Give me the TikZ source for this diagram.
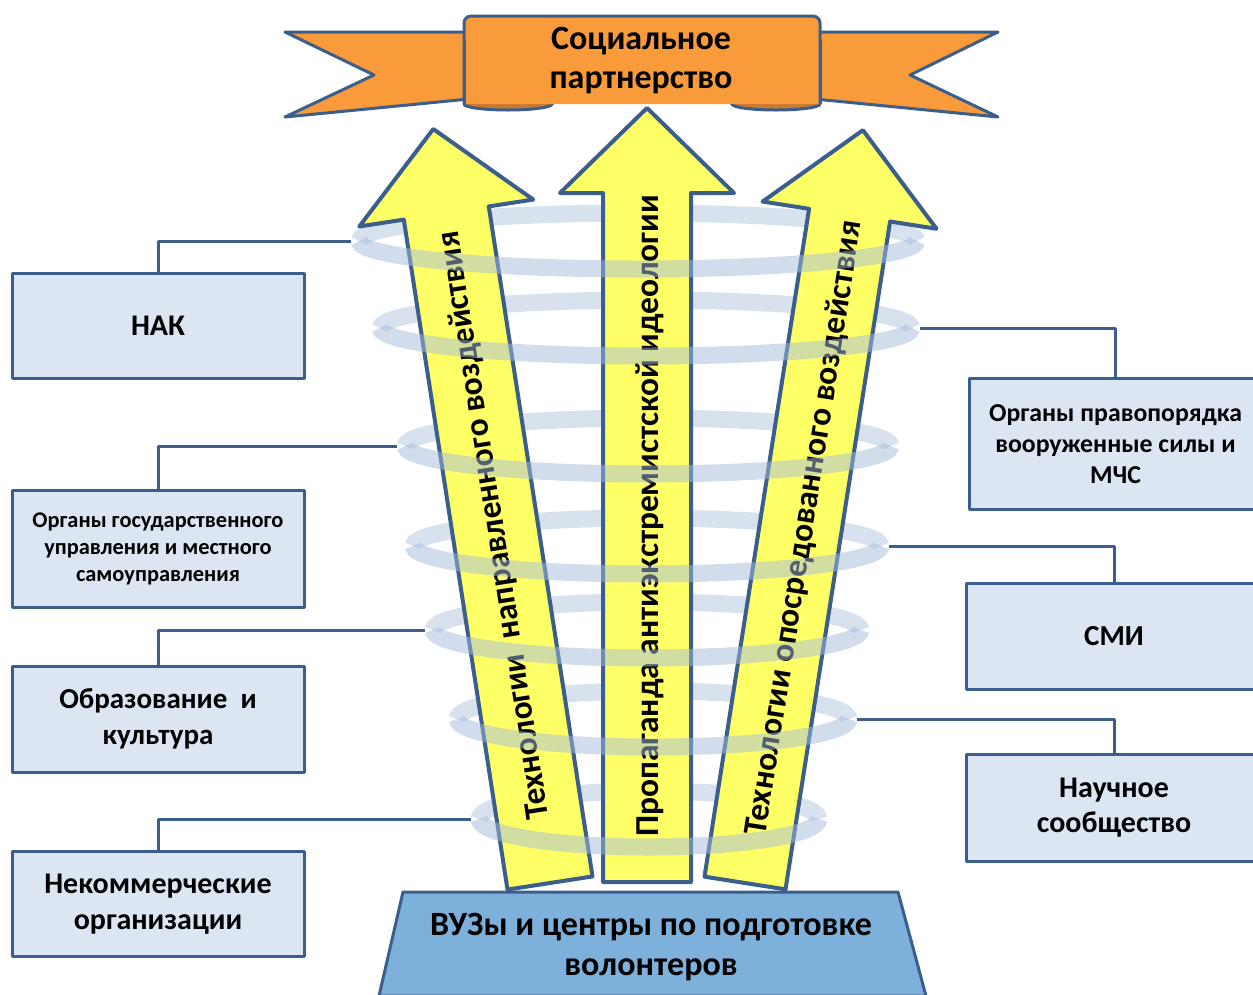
\documentclass[tikz,border=0pt]{standalone}
\usepackage{fontspec}
\setmainfont{Carlito}
\definecolor{edge}{HTML}{3B5E8C}
\definecolor{boxfill}{HTML}{DCE6F2}
\definecolor{orangeA}{HTML}{F99B3A}
\definecolor{orangeD}{HTML}{C97A30}
\definecolor{yel}{HTML}{FFFF66}
\definecolor{ringback}{HTML}{D8E2EF}
\definecolor{ringfront}{HTML}{A4BCDC}
\definecolor{trap}{HTML}{7DB0DA}
\begin{document}
\begin{tikzpicture}[x=1pt,y=-1pt,line join=round,
  box/.style={draw=edge,fill=boxfill,line width=3pt,align=center,font=\bfseries,inner sep=0pt},
  conn/.style={draw=edge,line width=3pt},
  arrowshape/.style={draw=edge,fill=yel,line width=4pt},
  ringb/.style={draw=ringback,line width=17pt},
  ringf/.style={draw=ringfront,line width=17pt,draw opacity=0.5},
  ribbon/.style={draw=edge,fill=orangeA,line width=3pt},
  ribbond/.style={draw=edge,fill=orangeD,line width=3pt},
  arrtext/.style={font=\fontsize{33.5}{36}\selectfont\bfseries,rotate=90,transform shape,inner sep=0pt}]
\useasboundingbox (0,0) rectangle (1253,994);

% ---------- banner ----------
\draw[ribbon] (285,32) -- (470,32) -- (470,104) -- (551,104)
  arc[start angle=-90,end angle=90,x radius=4,y radius=-6.5] -- (285,117) -- (374,75) -- cycle;
\draw[ribbon] (998,32) -- (815,32) -- (815,104) -- (733,104)
  arc[start angle=270,end angle=90,x radius=4,y radius=-6.5] -- (998,117) -- (910,75) -- cycle;
\draw[ribbond] (508,104) ellipse[x radius=44,y radius=6];
\draw[ribbond] (776,104) ellipse[x radius=44,y radius=6];
\draw[ribbon,rounded corners=7] (464,104) -- (464,16) -- (820,16) -- (820,104);
\fill[orangeA] (466,90) rectangle (818,103);
\draw[edge,line width=3pt] (464,40) -- (464,104);
\draw[edge,line width=3pt] (820,40) -- (820,104);
\node[font=\fontsize{34}{39}\selectfont\bfseries,align=center] (title) at (641,61) {Социальное\\партнерство};

% ---------- rings (back halves) ----------
\foreach \cx/\cy/\rx [count=\i] in {638/241/279,646/328/266,648/446/243,647/546/234,647/630/214,653/719/196,649/819/170}{
  \draw[ringb] (\cx+\rx,\cy) arc[start angle=0,end angle=-180,x radius=\rx,y radius=28];
  \coordinate (r\i w) at (\cx-\rx-8,\cy);
  \coordinate (r\i e) at (\cx+\rx+8,\cy);
}

% ---------- arrows ----------
\begin{scope}[shift={(550,883)},rotate=8.8]
  \draw[arrowshape] (-43,0) -- (-43,-678) -- (-88,-678) -- (0,-763) -- (88,-678) -- (43,-678) -- (43,0) -- cycle;
  \node[arrtext] (t1) at (0,-362) {Технологии\ \ направленного воздействия};
\end{scope}
\begin{scope}[shift={(647,882)}]
  \draw[arrowshape] (-44,0) -- (-44,-689) -- (-87,-689) -- (0,-774) -- (87,-689) -- (44,-689) -- (44,0) -- cycle;
  \node[arrtext] (t2) at (3,-366) {Пропаганда антиэкстремистской идеологии};
\end{scope}
\begin{scope}[shift={(745,883)},rotate=-8.9]
  \draw[arrowshape] (-41,0) -- (-41,-676) -- (-88,-676) -- (0,-762) -- (88,-676) -- (41,-676) -- (41,0) -- cycle;
  \node[arrtext] (t3) at (4,-360) {Технологии опосредованного воздействия};
\end{scope}

% ---------- rings (front halves) ----------
\foreach \cx/\cy/\rx in {638/241/279,646/328/266,648/446/243,647/546/234,647/630/214,653/719/196,649/819/170}{
  \draw[ringf] (\cx+\rx,\cy) arc[start angle=0,end angle=180,x radius=\rx,y radius=28];
}

% ---------- base ----------
\draw[draw=edge,fill=trap,line width=3pt] (403,892) -- (898,892) -- (926,996) -- (379,996) -- cycle;
\node[font=\fontsize{34}{40}\selectfont\bfseries,align=center] (vuz) at (651,947) {ВУЗы и центры по подготовке\\волонтеров};

% ---------- left boxes ----------
\node[box,minimum width=292pt,minimum height=105pt,font=\fontsize{30}{32}\selectfont\bfseries] (nak) at (158,325.5) {НАК};
\node[box,minimum width=292pt,minimum height=117pt,font=\fontsize{22.4}{27}\selectfont\bfseries] (gov) at (158,549) {Органы государственного\\управления и местного\\самоуправления};
\node[box,minimum width=292pt,minimum height=106pt,font=\fontsize{29}{36}\selectfont\bfseries] (edu) at (158,719) {Образование\ \ и\\культура};
\node[box,minimum width=292pt,minimum height=105pt,font=\fontsize{30}{36}\selectfont\bfseries] (nko) at (158,904) {Некоммерческие\\организации};

% ---------- right boxes ----------
\node[box,minimum width=293pt,minimum height=131pt,font=\fontsize{25.8}{31}\selectfont\bfseries] (law) at (1115.5,444) {Органы правопорядка\\вооруженные силы и\\МЧС};
\node[box,minimum width=296pt,minimum height=106pt,font=\fontsize{29}{32}\selectfont\bfseries] (smi) at (1114,636) {СМИ};
\node[box,minimum width=296pt,minimum height=107pt,font=\fontsize{30}{35}\selectfont\bfseries] (sci) at (1114,808) {Научное\\сообщество};

% ---------- connectors ----------
\draw[conn] (nak.north) |- (r1w);
\draw[conn] (gov.north) |- (r3w);
\draw[conn] (edu.north) |- (r5w);
\draw[conn] (nko.north) |- (r7w);
\draw[conn] (law.north) |- (r2e);
\draw[conn] (smi.north) |- (r4e);
\draw[conn] (sci.north) |- (r6e);
\end{tikzpicture}
\end{document}
